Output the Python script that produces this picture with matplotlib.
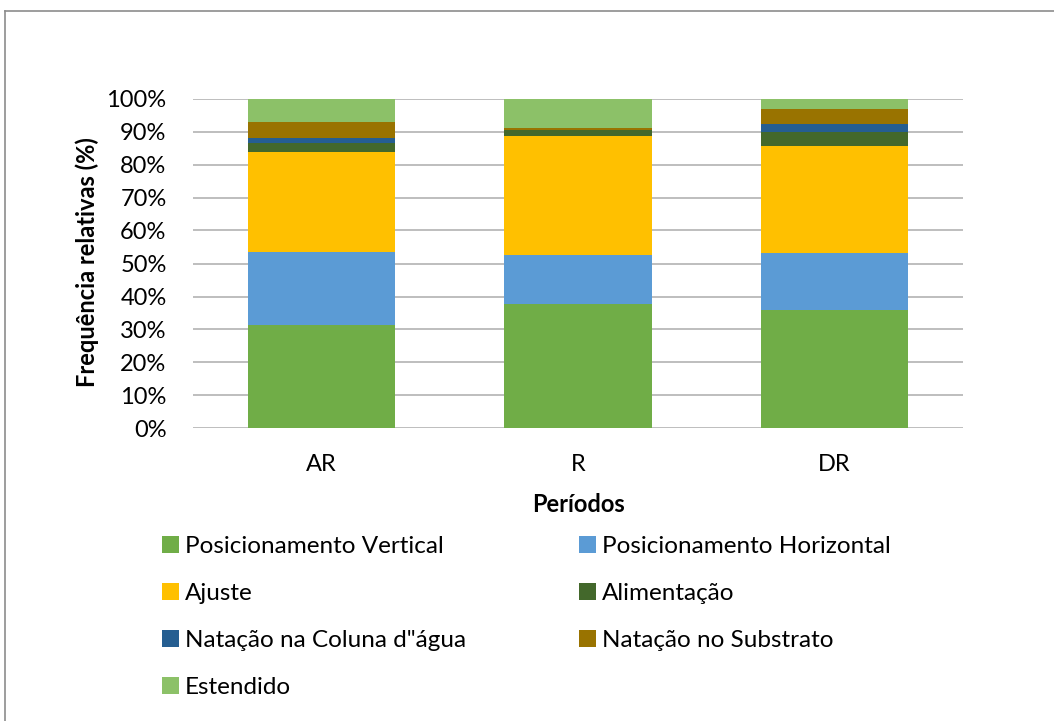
import matplotlib
matplotlib.use("Agg")
import matplotlib.pyplot as plt
from matplotlib.lines import Line2D
from matplotlib.patches import Patch
from matplotlib.ticker import PercentFormatter

plt.rcParams['font.family'] = ['Lato', 'DejaVu Sans']

periods = ["AR", "R", "DR"]
behaviours = [
    "Posicionamento Vertical",
    "Posicionamento Horizontal",
    "Ajuste",
    "Alimentação",
    "Natação na Coluna d\"água",
    "Natação no Substrato",
    "Estendido",
]
vertical = [31.5, 37.6, 36.0]
horizontal = [21.9, 15.0, 17.3]
ajuste = [30.4, 36.1, 32.3]
alimentacao = [2.6, 1.8, 4.4]
natacao_coluna = [1.7, 0.0, 2.4]
natacao_substrato = [4.7, 0.7, 4.4]
estendido = [7.2, 8.8, 3.2]

series = [vertical, horizontal, ajuste, alimentacao,
          natacao_coluna, natacao_substrato, estendido]
colors = ["#70AD47", "#5B9BD5", "#FFC000", "#43682B",
          "#255E91", "#997300", "#8CC168"]

FS = 17
LEG_FS = 17.5

W, H = 1054, 721
fig = plt.figure(figsize=(W / 100, H / 100), dpi=100)
ax = fig.add_axes([193 / W, 1 - 428.5 / H, (963 - 193) / W, (428.5 - 98.5) / H])

x = range(len(periods))
bottom = [0.0] * len(periods)
for vals, col in zip(series, colors):
    ax.bar(x, vals, width=0.575, bottom=bottom, color=col, zorder=3)
    bottom = [b + v for b, v in zip(bottom, vals)]

ax.set_xlim(-0.5, 2.5)
ax.set_ylim(0, 100)
ax.set_yticks(range(0, 101, 10))
ax.yaxis.set_major_formatter(PercentFormatter(decimals=0))
ax.set_xticks(list(x))
ax.set_xticklabels(periods)
ax.grid(axis="y", color="#B3B3B3", lw=1.2, zorder=0)
for s in ax.spines.values():
    s.set_visible(False)
ax.tick_params(axis="y", length=0, pad=19, labelsize=FS, labelcolor="#000000")
ax.tick_params(axis="x", length=0, pad=18.5, labelsize=FS, labelcolor="#000000")

fig.text(87 / W, 1 - 262 / H, "Frequência relativas (%)", rotation=90,
         ha="center", va="center", fontsize=FS, fontweight="bold")
fig.text(578 / W, 1 - 505 / H, "Períodos", ha="center", va="center",
         fontsize=FS, fontweight="bold")

# legend laid out in two columns, row by row
handles = [Patch(facecolor=c, edgecolor="none") for c in colors]
left_idx = [0, 2, 4, 6]
right_idx = [1, 3, 5]
for idx, xpos in ((left_idx, 162), (right_idx, 579)):
    fig.legend([handles[i] for i in idx], [behaviours[i] for i in idx],
               loc="upper left", bbox_to_anchor=(xpos / W, 1 - 536 / H),
               frameon=False, fontsize=LEG_FS, handlelength=0.68, handleheight=0.68,
               handletextpad=0.25, labelspacing=1.07, borderaxespad=0,
               borderpad=0)

# chart frame
fig.add_artist(Line2D([4.5 / W, 4.5 / W], [0, 1 - 10.5 / H], color="#8C8C8C", lw=1.2))
fig.add_artist(Line2D([4.5 / W, 1], [1 - 10.5 / H, 1 - 10.5 / H], color="#8C8C8C", lw=1.2))

fig.savefig("out.png", dpi=100)
